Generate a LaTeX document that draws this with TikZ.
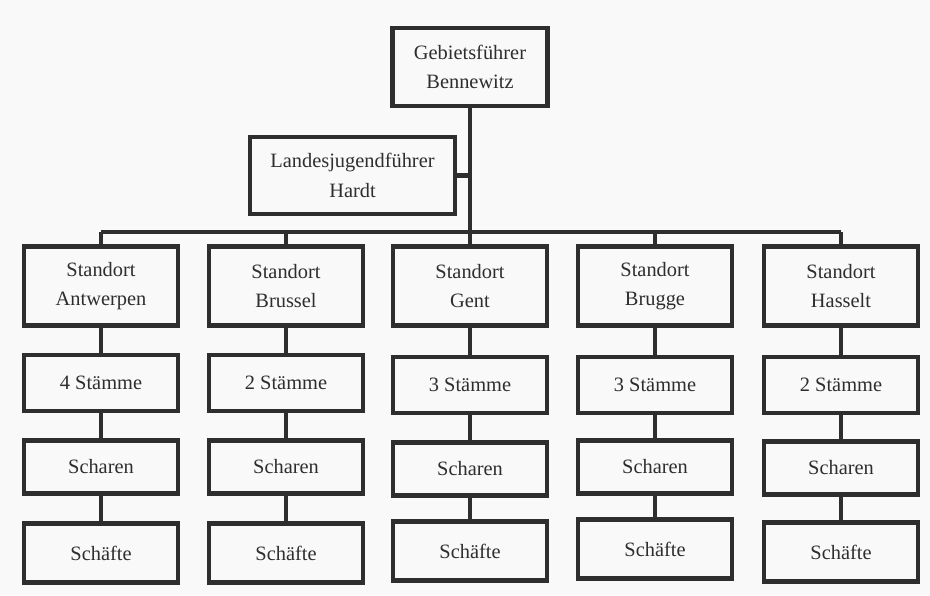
\documentclass[tikz,border=0pt]{standalone}
\usepackage{fontspec}
\setmainfont{Liberation Serif}
\definecolor{ink}{HTML}{2E2E2E}
\tikzset{
  box/.style={draw=ink, line width=3pt, text=ink, align=center,
    minimum width=3.85cm, font=\rmfamily\fontsize{14.5}{21}\selectfont},
  link/.style={draw=ink, line width=3pt}
}
\begin{document}
\begin{tikzpicture}[x=0.025cm, y=-0.025cm]
 			\fill[gray!5] (0,0) rectangle (930,595);
 			\useasboundingbox (0,0) rectangle (930,595);
 			% top
 			\node[box, minimum width=3.875cm, minimum height=1.95cm] (gf) at (470,67) {Gebietsführer\\Bennewitz};
 			\node[box, minimum width=5.125cm, minimum height=1.925cm] (lj) at (352.5,175.5) {Landesjugendführer\\Hardt};
 			\coordinate (bar) at (470,232);
 			% Standorte
 			\node[box, minimum height=1.975cm] (antw) at (101,286) {Standort\\Antwerpen};
 			\node[box, minimum height=1.975cm] (brus) at (286,286) {Standort\\Brussel};
 			\node[box, minimum height=1.975cm] (gent) at (470,286) {Standort\\Gent};
 			\node[box, minimum height=1.975cm] (brug) at (655,286) {Standort\\Brugge};
 			\node[box, minimum height=1.975cm] (hass) at (841,286) {Standort\\Hasselt};
 			% Staemme
 			\node[box, minimum height=1.4cm] (antwst) at (101,383) {4 Stämme};
 			\node[box, minimum height=1.4cm] (brusst) at (286,383) {2 Stämme};
 			\node[box, minimum height=1.4cm] (gentst) at (470,385) {3 Stämme};
 			\node[box, minimum height=1.4cm] (brugst) at (655,385) {3 Stämme};
 			\node[box, minimum height=1.4cm] (hassst) at (841,385) {2 Stämme};
 			% Scharen
 			\node[box, minimum height=1.325cm] (antwsc) at (101,467) {Scharen};
 			\node[box, minimum height=1.325cm] (brussc) at (286,467) {Scharen};
 			\node[box, minimum height=1.325cm] (gentsc) at (470,469) {Scharen};
 			\node[box, minimum height=1.325cm] (brugsc) at (655,467) {Scharen};
 			\node[box, minimum height=1.325cm] (hasssc) at (841,468) {Scharen};
 			% Schaefte
 			\node[box, minimum height=1.475cm] (antwsf) at (101,553) {Schäfte};
 			\node[box, minimum height=1.475cm] (brussf) at (286,553) {Schäfte};
 			\node[box, minimum height=1.475cm] (gentsf) at (470,551) {Schäfte};
 			\node[box, minimum height=1.475cm] (brugsf) at (655,549) {Schäfte};
 			\node[box, minimum height=1.475cm] (hasssf) at (841,552) {Schäfte};
 			% lines
 			\draw[link] (gf.south) -- (bar);
 			\draw[link] (lj.east) -- (lj.east -| gf.south);
 			\draw[link] (antw.north |- bar) -- (hass.north |- bar);
 			\draw[link] (antw.north) -- (antw.north |- bar);
 			\draw[link] (brus.north) -- (brus.north |- bar);
 			\draw[link] (gent.north) -- (gent.north |- bar);
 			\draw[link] (brug.north) -- (brug.north |- bar);
 			\draw[link] (hass.north) -- (hass.north |- bar);
 			\draw[link] (antw) -- (antwst) -- (antwsc) -- (antwsf);
 			\draw[link] (brus) -- (brusst) -- (brussc) -- (brussf);
 			\draw[link] (gent) -- (gentst) -- (gentsc) -- (gentsf);
 			\draw[link] (brug) -- (brugst) -- (brugsc) -- (brugsf);
 			\draw[link] (hass) -- (hassst) -- (hasssc) -- (hasssf);
\end{tikzpicture}
\end{document}
